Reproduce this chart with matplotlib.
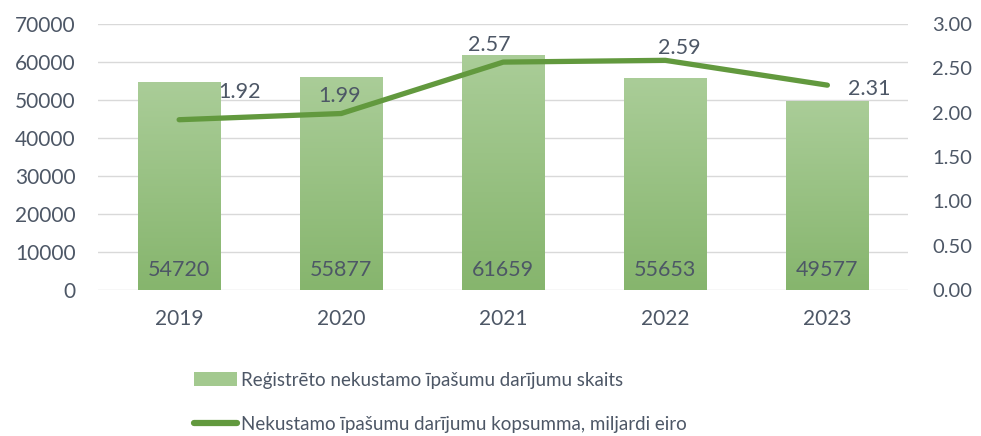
import numpy as np
import matplotlib.pyplot as plt
from matplotlib.patches import Patch
from matplotlib.lines import Line2D
from matplotlib.colors import LinearSegmentedColormap

plt.rcParams['font.family'] = ['Lato', 'DejaVu Sans']

# data
years = ["2019", "2020", "2021", "2022", "2023"]
deals_count = [54720, 55877, 61659, 55653, 49577]
deals_sum = [1.92, 1.99, 2.57, 2.59, 2.31]

bar_label = "Reģistrēto nekustamo īpašumu darījumu skaits"
line_label = "Nekustamo īpašumu darījumu kopsumma, miljardi eiro"

# label offsets for the line values (pixels)
line_offsets = [(60, 28), (-2, 18), (-14, 17), (14, 12), (42, -4)]

text_col = "#4d5766"
grid_col = "#d9d9d9"
line_col = "#62993e"
bar_top = "#aacd98"
bar_bottom = "#86b56d"

fig = plt.figure(figsize=(9.81, 4.36), dpi=100)
ax = fig.add_axes([0.1, 0.335, 0.826, 0.61])
ax2 = ax.twinx()

x = np.arange(len(years))
bars = ax.bar(x, deals_count, width=0.51, color="none", zorder=2)

# gradient fill for each bar
cmap = LinearSegmentedColormap.from_list("g", [bar_bottom, bar_top])
grad = np.linspace(0, 1, 256).reshape(-1, 1)
for b in bars:
    x0, y0 = b.get_x(), b.get_y()
    ax.imshow(grad, cmap=cmap, origin="lower", aspect="auto",
              extent=[x0, x0 + b.get_width(), y0, y0 + b.get_height()], zorder=2)

ax.set_xlim(-0.5, len(years) - 0.5)
ax.set_ylim(0, 70000)
ax.set_yticks(np.arange(0, 70001, 10000))
ax.grid(axis="y", color=grid_col, lw=1, zorder=0)
ax.set_axisbelow(True)
ax.set_xticks(x)
ax.set_xticklabels(years)

for i, v in enumerate(deals_count):
    ax.text(x[i], 5300, str(v), ha="center", va="center", fontsize=15.5,
            color=text_col, zorder=4)

ax2.plot(x, deals_sum, color=line_col, lw=3.8, solid_capstyle="round", zorder=3)
ax2.set_ylim(0, 3.0)
ax2.set_yticks(np.arange(0, 3.01, 0.5))
ax2.set_yticklabels([f"{t:.2f}" for t in np.arange(0, 3.01, 0.5)])
for i, v in enumerate(deals_sum):
    ax2.annotate(f"{v:.2f}", (x[i], v), xytext=line_offsets[i],
                 textcoords="offset pixels", ha="center", va="center",
                 fontsize=15.5, color=text_col)

for a in (ax, ax2):
    for s in a.spines.values():
        s.set_visible(False)
    a.tick_params(length=0, labelsize=15, labelcolor=text_col)
ax.tick_params(axis="y", pad=16)
ax.tick_params(axis="x", pad=14)
ax2.tick_params(axis="y", pad=17, labelsize=14.5)

handles = [Patch(facecolor="#a3c98f", edgecolor="none"),
           Line2D([0], [0], color=line_col, lw=4.5, solid_capstyle="round")]
fig.legend(handles, [bar_label, line_label], loc="upper left",
           bbox_to_anchor=(0.19, 0.165), frameon=False, fontsize=13.5,
           labelcolor=text_col, handlelength=2.3, handleheight=0.8,
           handletextpad=0.2, labelspacing=1.45, borderaxespad=0)

fig.savefig("out.png", dpi=100)
